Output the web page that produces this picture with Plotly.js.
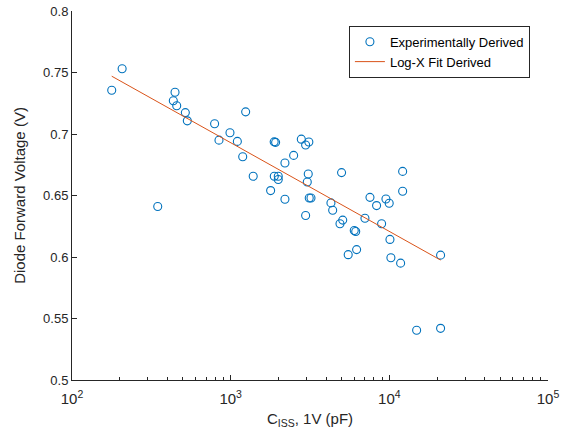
<!DOCTYPE html>
<html>
<head>
<meta charset="utf-8">
<script src="https://cdn.plot.ly/plotly-3.0.1.min.js"></script>
<style>html,body{margin:0;padding:0;background:#fff;}#chart{width:575px;height:440px;}</style>
</head>
<body>
<div id="chart"></div>
<script>
// Experimentally derived points: Ciss at 1V (pF) vs diode forward voltage (V)
const cissPF = [178, 207, 446, 435, 457, 518, 533, 1243, 792, 844, 990, 1102, 1191, 1387,
  1880, 1920, 2787, 2968, 3110, 2494, 2198, 1883, 1995, 1995, 1786, 2198, 3083, 3040,
  347, 3127, 2968, 3208, 5000, 12130, 12130, 7550, 9520, 9980, 4285, 4395, 5085, 4887,
  6010, 6140, 5505, 6220, 7020, 8310, 8940, 10090, 10230, 11780, 21040, 14860, 21040];
const vfV = [0.7356, 0.753, 0.734, 0.727, 0.723, 0.7174, 0.7107, 0.718, 0.7083, 0.695, 0.701, 0.694, 0.6815, 0.6656,
  0.6936, 0.6932, 0.6958, 0.691, 0.6935, 0.6826, 0.6764, 0.6656, 0.6656, 0.6630, 0.654, 0.647, 0.6675, 0.661,
  0.641, 0.648, 0.6337, 0.648, 0.6686, 0.6696, 0.6534, 0.6485, 0.6472, 0.6437, 0.644, 0.638, 0.630, 0.627,
  0.6216, 0.6207, 0.6019, 0.606, 0.6315, 0.6418, 0.627, 0.6143, 0.5994, 0.595, 0.6015, 0.5405, 0.542];
// Log-X fit line endpoints
const fitX = [178, 21040];
const fitY = [0.747, 0.5975];
// Ticks
const xTickVals = [100, 1000, 10000, 100000];
const xTickText = ['10<sup>2</sup>', '10<sup>3</sup>', '10<sup>4</sup>', '10<sup>5</sup>'];
const xMinorVals = [200,300,400,500,600,700,800,900,2000,3000,4000,5000,6000,7000,8000,9000,
  20000,30000,40000,50000,60000,70000,80000,90000];
const yTickVals = [0.5, 0.55, 0.6, 0.65, 0.7, 0.75, 0.8];
const yTickText = ['0.5', '0.55', '0.6', '0.65', '0.7', '0.75', '0.8'];

const axisColor = '#262626';
const fam = 'Liberation Sans, Arial, sans-serif';

const traces = [
  {x: cissPF, y: vfV, mode: 'markers', type: 'scatter', name: 'Experimentally Derived',
   marker: {symbol: 'circle-open', size: 8, color: '#0072BD', line: {width: 1.1, color: '#0072BD'}}},
  {x: fitX, y: fitY, mode: 'lines', type: 'scatter', name: 'Log-X Fit Derived',
   line: {color: '#D95319', width: 1}}
];

const layout = {
  width: 575, height: 440,
  margin: {l: 72, r: 27, t: 11, b: 60},
  paper_bgcolor: '#fff', plot_bgcolor: '#fff',
  font: {family: fam, size: 13, color: axisColor},
  showlegend: true,
  legend: {x: 0.962, xanchor: 'right', y: 0.96, yanchor: 'top',
    bgcolor: '#fff', bordercolor: axisColor, borderwidth: 1,
    font: {family: fam, size: 13, color: '#000'},
    tracegroupgap: 0},
  xaxis: {type: 'log', range: [2, 5], showgrid: false, zeroline: false,
    showline: true, linecolor: axisColor, linewidth: 1, mirror: false,
    tickmode: 'array', tickvals: xTickVals, ticktext: xTickText,
    ticks: 'inside', ticklen: 5, tickcolor: axisColor, ticklabelstandoff: 5,
    tickfont: {family: fam, size: 15, color: axisColor},
    minor: {tickmode: 'array', tickvals: xMinorVals, ticks: 'inside', ticklen: 3, tickcolor: axisColor, showgrid: false},
    title: {text: 'C<sub>ISS</sub>, 1V (pF)', font: {family: fam, size: 15, color: axisColor}, standoff: 7}},
  yaxis: {range: [0.5, 0.8], showgrid: false, zeroline: false,
    showline: true, linecolor: axisColor, linewidth: 1, mirror: false,
    tickmode: 'array', tickvals: yTickVals, ticktext: yTickText,
    ticks: 'inside', ticklen: 5, tickcolor: axisColor, tickfont: {family: fam, size: 13, color: axisColor},
    title: {text: 'Diode Forward Voltage (V)', font: {family: fam, size: 15, color: axisColor}, standoff: 13}}
};

Plotly.newPlot('chart', traces, layout, {displayModeBar: false, staticPlot: true});
</script>
</body>
</html>
